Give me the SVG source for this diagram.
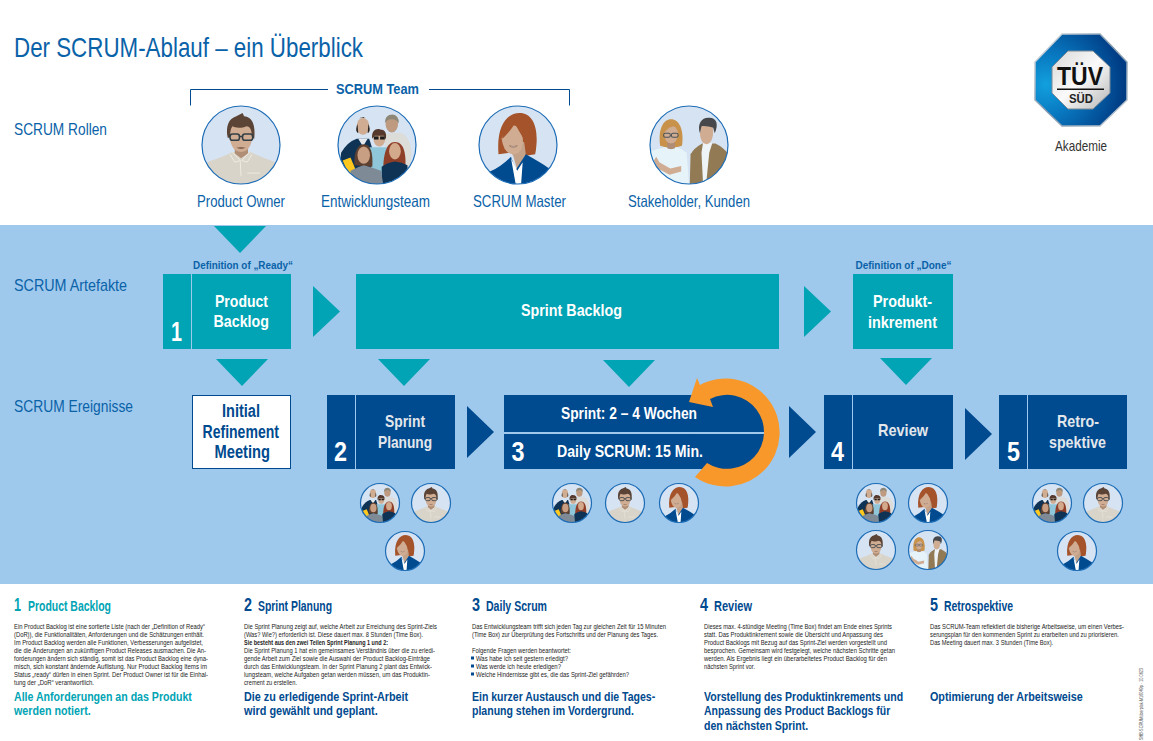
<svg xmlns="http://www.w3.org/2000/svg" width="1153" height="741" viewBox="0 0 1153 741">
<style>
text{font-family:"Liberation Sans Narrow","Liberation Sans",Arial,sans-serif}
.h1{font-size:28px;fill:#0a62a8}
.lane{font-size:17px;fill:#0a62a8}
.role{font-size:16.5px;fill:#0a62a8}
.def{font-size:11px;font-weight:700;fill:#0a62a8}
.box{font-size:17px;font-weight:700;fill:#fff}
.sm{font-size:16px}
.boxg{font-size:17px;font-weight:700;fill:#e3e7ec}
.num{font-size:28px;font-weight:700;fill:#fff}
.init{font-size:18px;font-weight:700;fill:#004a8f}
.hn{font-size:18.500px;font-weight:700;fill:#004a8f}
.ht{font-size:14px;font-weight:700;fill:#004a8f}
.b{font-size:7.200px;fill:#222}
.bb{font-size:7.200px;fill:#222;font-weight:700}
.s{font-size:13.500px;font-weight:700;fill:#004a8f}
.t{fill:#00a4b4}
.teal{fill:#00a4b4}
.navy{fill:#004a8f}
.div{stroke:#9fc9ec;stroke-width:1;fill:none}
.ring{fill:none;stroke:#1c6cb6;stroke-width:1.200;vector-effect:non-scaling-stroke}
.skin{fill:#cfac92}
.skd{fill:#b08e76}
.glass{fill:none;stroke:#333f46;stroke-width:2}
</style>
<defs>
<clipPath id="cp"><circle r="50"/></clipPath>
<linearGradient id="og" x1="0" y1="0" x2="1" y2="1"><stop offset="0" stop-color="#dfe4e8"/><stop offset=".5" stop-color="#7f96ab"/><stop offset="1" stop-color="#c9d2d9"/></linearGradient>
<radialGradient id="bl" cx=".12" cy=".55" r=".85"><stop offset="0" stop-color="#12a0de"/><stop offset=".4" stop-color="#0878c0"/><stop offset="1" stop-color="#003c84"/></radialGradient>
<linearGradient id="sv" x1="0" y1="0" x2="1" y2="1"><stop offset="0" stop-color="#d8d8d8"/><stop offset=".5" stop-color="#fafafa"/><stop offset="1" stop-color="#b5b5b5"/></linearGradient>
<g id="po"><g clip-path="url(#cp)"><rect x="-50" y="-50" width="100" height="100" fill="#d6e3f3"/>
<path d="M-50 50V28L-41 21Q-22 15-11 9H12Q24 15 42 21L50 28V50Z" fill="#d9d4c9"/>
<path d="M-8-3H9V11L0 17-8 11Z" class="skd"/>
<path d="M-11 9L-1 20 0 40M11 9L1 20M-14 12L-8 22-1 20M14 12L8 22 1 20M8 36H24" fill="none" stroke="#f0ece3" stroke-width="1.200"/>
<path d="M-15-18Q-15 8 0 9 15 8 15-18 12-30 0-30-12-30-15-18Z" class="skin"/>
<path d="M-17-9C-20-24-16-34-6-37L2-41 4-37C14-36 19-27 17-8L14-10C14-18 12-24 7-24 0-21-8-22-11-24-14-20-14-14-14-10Z" fill="#5b4436"/>
<rect x="-14" y="-14" width="12" height="8" rx="3" class="glass"/><rect x="2" y="-14" width="13" height="8" rx="3" class="glass"/><path d="M-2-11H2" class="glass"/>
<path d="M-6 3.500Q0 6 6 3.500Q0 2.500-6 3.500Z" fill="#6d4c3e"/></g><circle r="50" class="ring"/></g>
<g id="team"><g clip-path="url(#cp)"><rect x="-50" y="-50" width="100" height="100" fill="#d6e3f3"/>
<path d="M10-14L30-16Q44-10 44 12L42 40H12Z" fill="#dcdcd8"/>
<ellipse cx="19" cy="-27" rx="8" ry="11" fill="#bd9a80"/><path d="M10-28Q10-39 20-39 28-38 28-28 24-34 18-33 13-33 10-28Z" fill="#8d8778"/>
<path d="M-50 50L-46 10Q-38-4-26-8H-10L2 30V50Z" fill="#0e3355"/><path d="M-24-8H-12L-18 2Z" fill="#e6eaee"/>
<ellipse cx="-18" cy="-24" rx="8" ry="11" class="skin"/><path d="M-26-24Q-28-17-24-15L-25-27ZM-10-24Q-8-17-12-15L-11-27ZM-23-34Q-18-38-13-34L-17-36Z" fill="#2a2420"/>
<path d="M-10 3L15 3 18 40 14 50H-6Z" fill="#8fc6d9"/>
<ellipse cx="3" cy="-8" rx="7.500" ry="10" class="skin"/><path d="M-6-8C-8-19 0-22 4-20 11-20 13-14 11-7L9-12H-3Z" fill="#54392c"/><rect x="-4" y="-11" width="6" height="4" fill="#1c1c1c"/><rect x="4" y="-11" width="6" height="4" fill="#1c1c1c"/>
<path d="M8 32C8 12 12-4 23-4 35-4 38 12 36 34Z" fill="#8f3f28"/><ellipse cx="23" cy="8" rx="7.500" ry="10.500" fill="#d3a98c"/>
<path d="M6 50V28Q14 22 23 21 32 22 39 26L40 50Z" fill="#0e3355"/>
<path d="M-44 20L-34 16-28 30-36 38Z" fill="#ffc81e"/>
<path d="M-29 26C-30 8-24 -1-17-1-8 -1-5 10-6 28Z" fill="#5e4030"/><ellipse cx="-17" cy="13" rx="8" ry="11" fill="#c99f84"/>
<path d="M-34 50V33Q-25 28-17 26-8 28 5 33L8 50Z" fill="#7e8a96"/></g><circle r="50" class="ring"/></g>
<g id="sm"><g clip-path="url(#cp)"><rect x="-50" y="-50" width="100" height="100" fill="#d6e3f3"/>
<path d="M-25 12C-28-25-14-41 2-41 20-41 28-20 22 12L8 14-10 10Z" fill="#a5532b"/>
<path d="M-10 8L-6 14-1 32 10 12 8-4H-8Z" fill="#c3a28a"/>
<path d="M-21-8Q-18 13-4 12 8 10 6-10 4-24-8-26-18-22-21-8Z" class="skin"/>
<path d="M-20-8C-16-12-8-20-4-28 0-20 4-14 7-8L12 8 22 8C26-14 20-36 2-38-12-38-22-28-20-8Z" fill="#a5532b"/>
<path d="M-36 50V34Q-22 28-9 15L-3 32 10 12Q28 22 40 30L50 50Z" fill="#004a8f"/>
<path d="M-9 17L-3 50H4L6 22-1 33Z" fill="#fff"/>
<path d="M-11 1Q-6 5-1 1Q-6 3-11 1Z" fill="#fff" stroke="#6d4c3e" stroke-width=".6"/></g><circle r="50" class="ring"/></g>
<g id="sh"><g clip-path="url(#cp)"><rect x="-50" y="-50" width="100" height="100" fill="#d6e3f3"/>
<path d="M-37 1C-40-20-33-33-23-33-13-33-6-20-9 1L-16 3H-30Z" fill="#c8924a"/>
<path d="M-28-4H-18V6H-28Z" class="skd"/>
<path d="M-32-15Q-31-2-23-2-15-2-14-15-15-22-20-24-28-22-32-15Z" class="skin"/>
<rect x="-32.500" y="-15" width="8.500" height="5" rx="2" fill="none" stroke="#4a5258" stroke-width="1.300"/><rect x="-22.500" y="-15" width="8.500" height="5" rx="2" fill="none" stroke="#4a5258" stroke-width="1.300"/>
<path d="M-50 50V8Q-40 5-30 3-23 8-16 3-8 5-3 10L0 50Z" fill="#e6f4fa"/>
<path d="M-42 15L-38 22-24 30-10 27-10 34-25 38-40 30-45 20Z" class="skin"/>
<path d="M1 50L2 12Q6 4 17-2L34-2Q46 4 52 14V50Z" fill="#927a54"/>
<path d="M18-3L30-3 26 10 22 50H18L16 10Z" fill="#eef3f5"/>
<path d="M14-14Q15-1 23-1 31-3 31-18L30-26H15Z" class="skin"/>
<path d="M14-15C10-28 17-36 26-35 36-35 38-26 33-15L31-22C26-24 19-25 16-24Z" fill="#46474a"/></g><circle r="50" class="ring"/></g>
</defs>

<rect x="0" y="225" width="1153" height="359" fill="#9fc9ec"/>

<text class="h1" x="14" y="57" textLength="349" lengthAdjust="spacingAndGlyphs">Der SCRUM-Ablauf – ein Überblick</text>
<text class="lane" x="14" y="135" textLength="93" lengthAdjust="spacingAndGlyphs">SCRUM Rollen</text>
<text class="lane" x="14" y="291" textLength="113" lengthAdjust="spacingAndGlyphs">SCRUM Artefakte</text>
<text class="lane" x="14" y="412" textLength="119" lengthAdjust="spacingAndGlyphs">SCRUM Ereignisse</text>

<g id="scrum-team-bracket"><path d="M190.500 105.500V89.500H328M429 89.500H569.500V105.500" fill="none" stroke="#004a8f" stroke-width="1"/>
<text x="336" y="94" font-size="15" font-weight="700" fill="#0a62a8" textLength="83" lengthAdjust="spacingAndGlyphs">SCRUM Team</text></g>

<g id="role-product-owner"><use href="#po" transform="translate(241 145) scale(.78)"/><text class="role" x="197" y="207" textLength="88" lengthAdjust="spacingAndGlyphs">Product Owner</text></g>
<g id="role-entwicklungsteam"><use href="#team" transform="translate(377 145) scale(.78)"/><text class="role" x="321" y="207" textLength="109" lengthAdjust="spacingAndGlyphs">Entwicklungsteam</text></g>
<g id="role-scrum-master"><use href="#sm" transform="translate(518 145) scale(.78)"/><text class="role" x="473" y="207" textLength="93" lengthAdjust="spacingAndGlyphs">SCRUM Master</text></g>
<g id="role-stakeholder"><use href="#sh" transform="translate(689 145) scale(.78)"/><text class="role" x="628" y="207" textLength="122" lengthAdjust="spacingAndGlyphs">Stakeholder, Kunden</text></g>

<g id="logo"><path d="M1062 34H1100L1127 62V100L1100 126H1062L1035 100V62Z" fill="url(#bl)" stroke="url(#og)" stroke-width="1.500"/>
<path d="M1068 51H1093L1110 67V93L1093 109H1068L1052 93V67Z" fill="url(#sv)" stroke="#7b8a96" stroke-width="1"/>
<text x="1057" y="85" font-size="25" font-weight="700" fill="#111" textLength="46" lengthAdjust="spacingAndGlyphs">TÜV</text>
<rect x="1057" y="88.500" width="47" height="1.500" fill="#111"/>
<text x="1069" y="103" font-size="12" font-weight="700" fill="#222" textLength="24" lengthAdjust="spacingAndGlyphs">SÜD</text>
<text x="1055" y="151" font-size="15" fill="#333" textLength="52" lengthAdjust="spacingAndGlyphs">Akademie</text></g>

<g id="connectors">
<path class="teal" d="M214 226H266L240 253Z"/>
<path class="teal" d="M313 286V337L340 311.500Z"/>
<path class="teal" d="M804 286V337L831 311.500Z"/>
<path class="teal" d="M216 359H268L242 386Z"/>
<path class="teal" d="M378 359H430L404 386Z"/>
<path class="teal" d="M603 360H655L629 387Z"/>
<path class="teal" d="M880 358H932L906 385Z"/>
<path class="navy" d="M467 406V458L494 432Z"/>
<path class="navy" d="M789 406V458L816 432Z"/>
<path class="navy" d="M965 408V460L992 434Z"/>
</g>

<g id="product-backlog"><rect class="teal" x="163" y="274" width="128" height="75"/><path class="div" d="M191.500 274V349"/>
<text class="num" x="171" y="341" textLength="11" lengthAdjust="spacingAndGlyphs">1</text>
<text class="box" x="215" y="307" textLength="53" lengthAdjust="spacingAndGlyphs">Product</text>
<text class="box" x="213.500" y="327" textLength="55.500" lengthAdjust="spacingAndGlyphs">Backlog</text>
<text class="def" x="193" y="269" textLength="100" lengthAdjust="spacingAndGlyphs">Definition of „Ready“</text></g>

<g id="sprint-backlog"><rect class="teal" x="356" y="274" width="423" height="75"/>
<text class="box" x="521" y="316" textLength="101" lengthAdjust="spacingAndGlyphs">Sprint Backlog</text></g>

<g id="produktinkrement"><rect class="teal" x="853" y="274" width="100" height="75"/>
<text class="box" x="873" y="307" textLength="59" lengthAdjust="spacingAndGlyphs">Produkt-</text>
<text class="box" x="868" y="328" textLength="69" lengthAdjust="spacingAndGlyphs">inkrement</text>
<text class="def" x="855.500" y="269" textLength="96" lengthAdjust="spacingAndGlyphs">Definition of „Done“</text></g>

<g id="initial-refinement"><rect x="192.500" y="395.500" width="98" height="73" fill="#fff" stroke="#004a8f" stroke-width="1"/>
<text class="init" x="222" y="417" textLength="38" lengthAdjust="spacingAndGlyphs">Initial</text>
<text class="init" x="202.500" y="438" textLength="76.500" lengthAdjust="spacingAndGlyphs">Refinement</text>
<text class="init" x="214.500" y="458" textLength="55.500" lengthAdjust="spacingAndGlyphs">Meeting</text></g>

<g id="sprint-planung"><rect class="navy" x="327" y="395" width="128" height="74"/><path class="div" d="M355.500 395V469"/>
<text class="num" x="334" y="461" textLength="13" lengthAdjust="spacingAndGlyphs">2</text>
<text class="boxg" x="385" y="427" textLength="40" lengthAdjust="spacingAndGlyphs">Sprint</text>
<text class="boxg" x="378" y="448" textLength="54" lengthAdjust="spacingAndGlyphs">Planung</text>
<use href="#team" transform="translate(380 503) scale(.39)"/><use href="#po" transform="translate(431 503) scale(.39)"/><use href="#sm" transform="translate(405 551) scale(.39)"/></g>

<g id="daily-scrum"><rect class="navy" x="504" y="395" width="223" height="74"/><circle class="navy" cx="727" cy="432" r="38"/>
<rect x="504" y="432" width="260" height="2" fill="#9fc9ec"/>
<path d="M695 477A54 54 0 1 0 700 385L697 378 689 402 713 407 710 399A37 37 0 1 1 707 463Z" fill="#f8982a"/>
<text class="box sm" x="561" y="419" textLength="136" lengthAdjust="spacingAndGlyphs">Sprint: 2 – 4 Wochen</text>
<text class="box sm" x="557" y="457" textLength="146" lengthAdjust="spacingAndGlyphs">Daily SCRUM: 15 Min.</text>
<text class="num" x="511.500" y="461" textLength="13" lengthAdjust="spacingAndGlyphs">3</text>
<use href="#team" transform="translate(572 503) scale(.39)"/><use href="#po" transform="translate(625 503) scale(.39)"/><use href="#sm" transform="translate(679 503) scale(.39)"/></g>

<g id="review"><rect class="navy" x="824" y="395" width="129" height="74"/><path class="div" d="M852.500 395V469"/>
<text class="num" x="831" y="461" textLength="13" lengthAdjust="spacingAndGlyphs">4</text>
<text class="boxg" x="878" y="436" textLength="50" lengthAdjust="spacingAndGlyphs">Review</text>
<use href="#team" transform="translate(876 503) scale(.39)"/><use href="#sm" transform="translate(928 503) scale(.39)"/><use href="#po" transform="translate(876 550) scale(.39)"/><use href="#sh" transform="translate(928 550) scale(.39)"/></g>

<g id="retrospektive"><rect class="navy" x="999" y="395" width="128" height="74"/><path class="div" d="M1027.500 395V469"/>
<text class="num" x="1007" y="461" textLength="13" lengthAdjust="spacingAndGlyphs">5</text>
<text class="boxg" x="1057" y="427" textLength="42" lengthAdjust="spacingAndGlyphs">Retro-</text>
<text class="boxg" x="1049" y="448" textLength="57" lengthAdjust="spacingAndGlyphs">spektive</text>
<use href="#team" transform="translate(1052 503) scale(.39)"/><use href="#po" transform="translate(1103 503) scale(.39)"/><use href="#sm" transform="translate(1077 551) scale(.39)"/></g>

<g id="text-1">
<text class="hn t" x="14" y="611" textLength="7" lengthAdjust="spacingAndGlyphs">1</text>
<text class="ht t" x="28" y="611" textLength="83" lengthAdjust="spacingAndGlyphs">Product Backlog</text>
<text class="b" x="14" y="629" textLength="191" lengthAdjust="spacingAndGlyphs">Ein Product Backlog ist eine sortierte Liste (nach der „Definition of Ready“</text>
<text class="b" x="14" y="637" textLength="190" lengthAdjust="spacingAndGlyphs">(DoR)), die Funktionalitäten, Anforderungen und die Schätzungen enthält.</text>
<text class="b" x="14" y="645" textLength="189" lengthAdjust="spacingAndGlyphs">Im Product Backlog werden alle Funktionen, Verbesserungen aufgelistet,</text>
<text class="b" x="14" y="653" textLength="192" lengthAdjust="spacingAndGlyphs">die die Änderungen an zukünftigen Product Releases ausmachen. Die An-</text>
<text class="b" x="14" y="661" textLength="194" lengthAdjust="spacingAndGlyphs">forderungen ändern sich ständig, somit ist das Product Backlog eine dyna-</text>
<text class="b" x="14" y="669" textLength="193" lengthAdjust="spacingAndGlyphs">misch, sich konstant ändernde Auflistung. Nur Product Backlog Items im</text>
<text class="b" x="14" y="677" textLength="194" lengthAdjust="spacingAndGlyphs">Status „ready“ dürfen in einen Sprint. Der Product Owner ist für die Einhal-</text>
<text class="b" x="14" y="685" textLength="80" lengthAdjust="spacingAndGlyphs">tung der „DoR“ verantwortlich.</text>
<text class="s t" transform="translate(14 701) scale(.76 1)" textLength="234" lengthAdjust="spacingAndGlyphs">Alle Anforderungen an das Produkt</text>
<text class="s t" transform="translate(14 715) scale(.76 1)" textLength="101" lengthAdjust="spacingAndGlyphs">werden notiert.</text>
</g>

<g id="text-2">
<text class="hn" x="244" y="611" textLength="8" lengthAdjust="spacingAndGlyphs">2</text>
<text class="ht" x="258" y="611" textLength="74" lengthAdjust="spacingAndGlyphs">Sprint Planung</text>
<text class="b" x="244" y="629" textLength="193" lengthAdjust="spacingAndGlyphs">Die Sprint Planung zeigt auf, welche Arbeit zur Erreichung des Sprint-Ziels</text>
<text class="b" x="244" y="637" textLength="179" lengthAdjust="spacingAndGlyphs">(Was? Wie?) erforderlich ist. Diese dauert max. 8 Stunden (Time Box).</text>
<text class="bb" x="244" y="645" textLength="144" lengthAdjust="spacingAndGlyphs">Sie besteht aus den zwei Teilen Sprint Planung 1 und 2:</text>
<text class="b" x="244" y="653" textLength="191" lengthAdjust="spacingAndGlyphs">Die Sprint Planung 1 hat ein gemeinsames Verständnis über die zu erledi-</text>
<text class="b" x="244" y="661" textLength="186" lengthAdjust="spacingAndGlyphs">gende Arbeit zum Ziel sowie die Auswahl der Product Backlog-Einträge</text>
<text class="b" x="244" y="669" textLength="188" lengthAdjust="spacingAndGlyphs">durch das Entwicklungsteam. In der Sprint Planung 2 plant das Entwick-</text>
<text class="b" x="244" y="677" textLength="186" lengthAdjust="spacingAndGlyphs">lungsteam, welche Aufgaben getan werden müssen, um das Produktin-</text>
<text class="b" x="244" y="685" textLength="53" lengthAdjust="spacingAndGlyphs">crement zu erstellen.</text>
<text class="s" transform="translate(244 701) scale(.76 1)" textLength="216" lengthAdjust="spacingAndGlyphs">Die zu erledigende Sprint-Arbeit</text>
<text class="s" transform="translate(244 715) scale(.76 1)" textLength="176" lengthAdjust="spacingAndGlyphs">wird gewählt und geplant.</text>
</g>

<g id="text-3">
<text class="hn" x="472" y="611" textLength="8" lengthAdjust="spacingAndGlyphs">3</text>
<text class="ht" x="486" y="611" textLength="61" lengthAdjust="spacingAndGlyphs">Daily Scrum</text>
<text class="b" x="472" y="629" textLength="194" lengthAdjust="spacingAndGlyphs">Das Entwicklungsteam trifft sich jeden Tag zur gleichen Zeit für 15 Minuten</text>
<text class="b" x="472" y="637" textLength="186" lengthAdjust="spacingAndGlyphs">(Time Box) zur Überprüfung des Fortschritts und der Planung des Tages.</text>
<text class="b" x="472" y="653" textLength="99" lengthAdjust="spacingAndGlyphs">Folgende Fragen werden beantwortet:</text>
<rect class="navy" x="471" y="656.500" width="3" height="3"/><text class="b" x="476" y="661" textLength="92" lengthAdjust="spacingAndGlyphs">Was habe ich seit gestern erledigt?</text>
<rect class="navy" x="471" y="664.500" width="3" height="3"/><text class="b" x="476" y="669" textLength="85" lengthAdjust="spacingAndGlyphs">Was werde ich heute erledigen?</text>
<rect class="navy" x="471" y="672.500" width="3" height="3"/><text class="b" x="476" y="677" textLength="153" lengthAdjust="spacingAndGlyphs">Welche Hindernisse gibt es, die das Sprint-Ziel gefährden?</text>
<text class="s" transform="translate(472 701) scale(.76 1)" textLength="241" lengthAdjust="spacingAndGlyphs">Ein kurzer Austausch und die Tages-</text>
<text class="s" transform="translate(472 715) scale(.76 1)" textLength="213" lengthAdjust="spacingAndGlyphs">planung stehen im Vordergrund.</text>
</g>

<g id="text-4">
<text class="hn" x="700" y="611" textLength="8" lengthAdjust="spacingAndGlyphs">4</text>
<text class="ht" x="714" y="611" textLength="38" lengthAdjust="spacingAndGlyphs">Review</text>
<text class="b" x="704" y="629" textLength="188" lengthAdjust="spacingAndGlyphs">Dieses max. 4-stündige Meeting (Time Box) findet am Ende eines Sprints</text>
<text class="b" x="704" y="637" textLength="179" lengthAdjust="spacingAndGlyphs">statt. Das Produktinkrement sowie die Übersicht und Anpassung des</text>
<text class="b" x="704" y="645" textLength="183" lengthAdjust="spacingAndGlyphs">Product Backlogs mit Bezug auf das Sprint-Ziel werden vorgestellt und</text>
<text class="b" x="704" y="653" textLength="191" lengthAdjust="spacingAndGlyphs">besprochen. Gemeinsam wird festgelegt, welche nächsten Schritte getan</text>
<text class="b" x="704" y="661" textLength="183" lengthAdjust="spacingAndGlyphs">werden. Als Ergebnis liegt ein überarbeitetes Product Backlog für den</text>
<text class="b" x="704" y="669" textLength="51" lengthAdjust="spacingAndGlyphs">nächsten Sprint vor.</text>
<text class="s" transform="translate(704 701) scale(.76 1)" textLength="262" lengthAdjust="spacingAndGlyphs">Vorstellung des Produktinkrements und</text>
<text class="s" transform="translate(704 715) scale(.76 1)" textLength="245" lengthAdjust="spacingAndGlyphs">Anpassung des Product Backlogs für</text>
<text class="s" transform="translate(704 730) scale(.76 1)" textLength="137" lengthAdjust="spacingAndGlyphs">den nächsten Sprint.</text>
</g>

<g id="text-5">
<text class="hn" x="930" y="611" textLength="8" lengthAdjust="spacingAndGlyphs">5</text>
<text class="ht" x="944" y="611" textLength="69" lengthAdjust="spacingAndGlyphs">Retrospektive</text>
<text class="b" transform="translate(930 628.500) scale(.8 1)" textLength="242.500" lengthAdjust="spacingAndGlyphs">Das SCRUM-Team reflektiert die bisherige Arbeitsweise, um einen Verbes-</text>
<text class="b" transform="translate(930 636.500) scale(.8 1)" textLength="236" lengthAdjust="spacingAndGlyphs">serungsplan für den kommenden Sprint zu erarbeiten und zu priorisieren.</text>
<text class="b" transform="translate(930 644.500) scale(.8 1)" textLength="154" lengthAdjust="spacingAndGlyphs">Das Meeting dauert max. 3 Stunden (Time Box).</text>
<text class="s" transform="translate(930 701) scale(.76 1)" textLength="201" lengthAdjust="spacingAndGlyphs">Optimierung der Arbeitsweise</text>
</g>

<text transform="translate(1143 740) rotate(-90)" font-size="5" fill="#555" textLength="72" lengthAdjust="spacingAndGlyphs">SHB-SCRUMüberplak-M16049p · 10.0623</text>
</svg>
